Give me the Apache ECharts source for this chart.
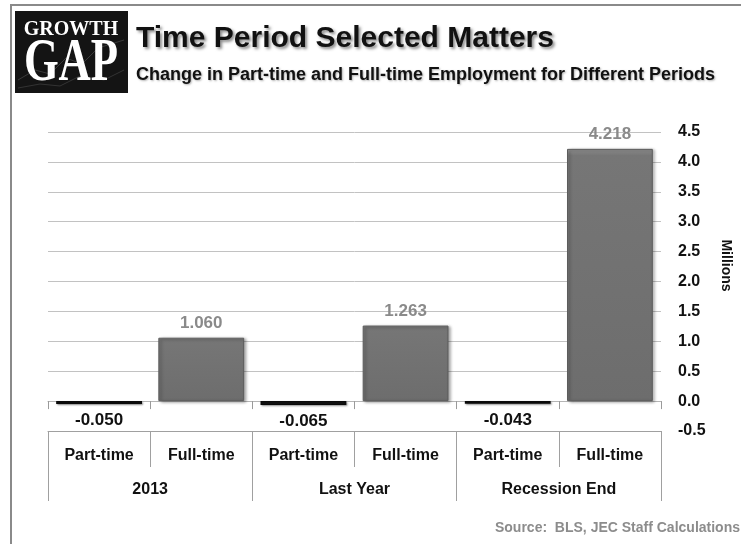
<!DOCTYPE html>
<html>
<head>
<meta charset="utf-8">
<script src="https://cdn.jsdelivr.net/npm/echarts@6/dist/echarts.min.js"></script>
<style>
html,body{margin:0;padding:0;background:#fff;}
#chart{width:741px;height:544px;}
</style>
</head>
<body>
<div id="chart"></div>
<script>
// ---- data ----
var categories = ['Part-time', 'Full-time', 'Part-time', 'Full-time', 'Part-time', 'Full-time'];
var groups = ['2013', 'Last Year', 'Recession End'];
var values = [-0.050, 1.060, -0.065, 1.263, -0.043, 4.218];
var yMin = -0.5, yMax = 4.5, yStep = 0.5;
var titleText = 'Time Period Selected Matters';
var subtitleText = 'Change in Part-time and Full-time Employment for Different Periods';
var sourceText = 'Source:  BLS, JEC Staff Calculations';
var yName = 'Millions';

var FONT = '"Liberation Sans", Arial, Helvetica, sans-serif';
var chart = echarts.init(document.getElementById('chart'));

var barData = values.map(function (v) {
  var neg = v < 0;
  return {
    value: v,
    itemStyle: neg ? {
      color: '#1c1c1c', borderColor: '#0a0a0a', borderWidth: 1.5,
      shadowColor: 'rgba(0,0,0,0.35)', shadowBlur: 2, shadowOffsetX: 1, shadowOffsetY: 1
    } : {
      color: {
        type: 'linear', x: 0, y: 0, x2: 0, y2: 1,
        colorStops: [
          {offset: 0, color: '#959595'},
          {offset: 0.025, color: '#767676'},
          {offset: 1, color: '#6d6d6d'}
        ]
      },
      borderColor: '#5c5c5c', borderWidth: 1,
      shadowColor: 'rgba(0,0,0,0.35)', shadowBlur: 3, shadowOffsetX: 2, shadowOffsetY: 1
    },
    label: {
      show: true,
      position: neg ? 'bottom' : 'top',
      distance: neg ? 8 : 6,
      color: neg ? '#111' : '#8a8a8a',
      fontSize: 17,
      fontWeight: 'bold',
      fontFamily: FONT,
      formatter: function (p) { return p.value.toFixed(3); }
    }
  };
});

var option = {
  animation: false,
  backgroundColor: '#fff',
  title: [{
    text: titleText,
    subtext: subtitleText,
    left: 136,
    top: 23,
    itemGap: 10,
    padding: 0,
    textStyle: {
      fontFamily: FONT, fontSize: 30, fontWeight: 'bold', color: '#111', lineHeight: 32,
      textShadowColor: 'rgba(0,0,0,0.45)', textShadowBlur: 3, textShadowOffsetX: 2, textShadowOffsetY: 2
    },
    subtextStyle: {
      fontFamily: FONT, fontSize: 18, fontWeight: 'bold', color: '#111', lineHeight: 20,
      textShadowColor: 'rgba(0,0,0,0.3)', textShadowBlur: 2, textShadowOffsetX: 1, textShadowOffsetY: 1
    }
  }],
  graphic: [
    {type: 'rect', shape: {x: 11, y: 5, width: 800, height: 600},
     style: {fill: 'none', stroke: '#8a8a8a', lineWidth: 2}, silent: true},
    {type: 'rect', shape: {x: 15, y: 11, width: 113, height: 82},
     style: {fill: '#141414'}, silent: true},
    {type: 'polyline', shape: {points: [[18, 80], [35, 70], [50, 74], [66, 58], [82, 64], [98, 48], [124, 40]]},
     style: {stroke: '#3a3a3a', lineWidth: 1, fill: 'none'}, silent: true},
    {type: 'polyline', shape: {points: [[18, 88], [40, 84], [60, 86], [80, 76], [104, 80], [124, 70]]},
     style: {stroke: '#333', lineWidth: 1, fill: 'none'}, silent: true},
    {type: 'text', x: 71, y: 30, silent: true,
     style: {text: 'GROWTH', fill: '#fff', font: 'bold 20px "Liberation Serif", "Times New Roman", serif',
             textAlign: 'center', textVerticalAlign: 'middle'}},
    {type: 'text', x: 71, y: 64, scaleX: 0.72, silent: true,
     style: {text: 'GAP', fill: '#fff', font: 'bold 62px "Liberation Serif", "Times New Roman", serif',
             textAlign: 'center', textVerticalAlign: 'middle'}},
    {type: 'text', x: 740, y: 528, silent: true,
     style: {text: sourceText, fill: '#8c8c8c', font: 'bold 14px ' + FONT,
             textAlign: 'right', textVerticalAlign: 'middle'}}
  ],
  grid: {left: 48, right: 77, top: 132, bottom: 113},
  xAxis: [
    {
      type: 'category', data: categories, position: 'bottom',
      axisLine: {show: true, onZero: true, lineStyle: {color: '#b5b5b5', width: 1}},
      axisTick: {show: true, length: 8, lineStyle: {color: '#9a9a9a'}},
      axisLabel: {show: false},
      splitLine: {show: false}
    },
    {
      type: 'category', data: categories, position: 'bottom', offset: 0,
      axisLine: {show: true, onZero: false, lineStyle: {color: '#a0a0a0', width: 1}},
      axisTick: {show: true, length: 36, lineStyle: {color: '#a0a0a0'}},
      axisLabel: {show: true, margin: 17, fontFamily: FONT, fontSize: 16, fontWeight: 'bold', color: '#111'},
      splitLine: {show: false}
    },
    {
      type: 'category', data: groups, position: 'bottom', offset: 0,
      axisLine: {show: false, onZero: false},
      axisTick: {show: true, length: 70, lineStyle: {color: '#a0a0a0'}},
      axisLabel: {show: true, margin: 51, fontFamily: FONT, fontSize: 16, fontWeight: 'bold', color: '#111'},
      splitLine: {show: false}
    }
  ],
  yAxis: [{
    type: 'value', position: 'right', min: yMin, max: yMax, interval: yStep,
    name: yName, nameLocation: 'middle', nameGap: 58, nameRotate: -90,
    nameTextStyle: {fontFamily: FONT, fontSize: 14, fontWeight: 'bold', color: '#111', padding: [0, 32, 0, 0]},
    axisLine: {show: false},
    axisTick: {show: false},
    axisLabel: {margin: 17, fontFamily: FONT, fontSize: 16, fontWeight: 'bold', color: '#111',
                formatter: function (v) { return v.toFixed(1); }},
    splitLine: {show: true, lineStyle: {color: '#c2c2c2', width: 1}}
  }],
  series: [{
    type: 'bar', xAxisIndex: 0, yAxisIndex: 0,
    data: barData,
    barWidth: '84%'
  }]
};
chart.setOption(option);
</script>
</body>
</html>
